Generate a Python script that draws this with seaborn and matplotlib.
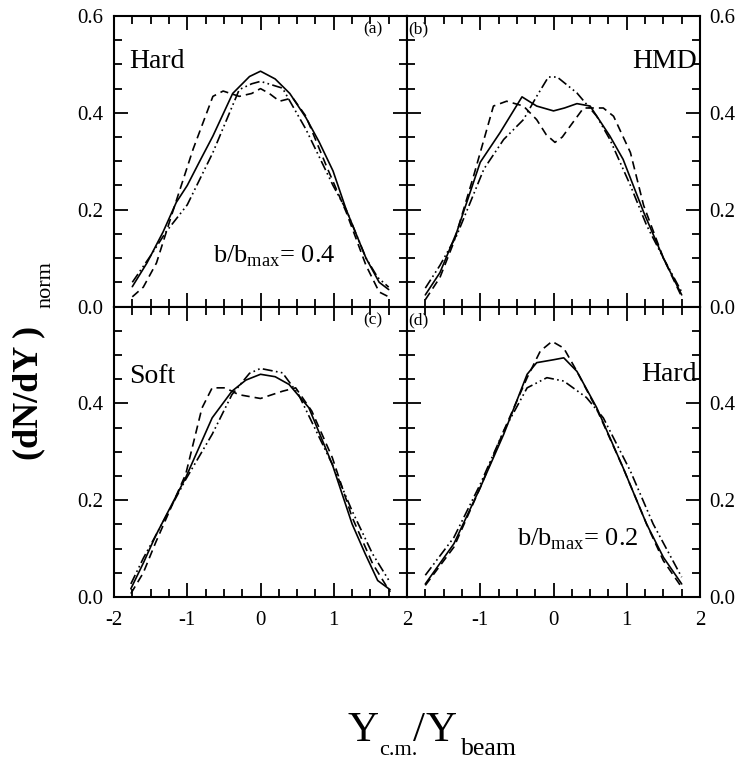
import matplotlib
matplotlib.use("Agg")
import matplotlib.pyplot as plt
import seaborn as sns
import numpy as np
from matplotlib.ticker import MultipleLocator

# ---- data ----
# panel (a): Hard, b/bmax = 0.4
a_solid_x = [-1.75, -1.55, -1.33, -1.15, -1.0, -0.83, -0.65, -0.38, -0.15, 0.0, 0.2, 0.4, 0.62, 0.8, 0.99, 1.17, 1.44, 1.62, 1.75]
a_solid_y = [0.041, 0.09, 0.154, 0.215, 0.25, 0.30, 0.352, 0.44, 0.475, 0.486, 0.47, 0.44, 0.39, 0.34, 0.28, 0.20, 0.10, 0.05, 0.035]
a_dash_x = [-1.75, -1.6, -1.42, -1.2, -0.92, -0.65, -0.51, -0.29, -0.12, 0.0, 0.12, 0.26, 0.44, 0.62, 0.9, 1.17, 1.44, 1.62, 1.75]
a_dash_y = [0.02, 0.04, 0.09, 0.195, 0.325, 0.434, 0.445, 0.434, 0.44, 0.45, 0.44, 0.424, 0.431, 0.393, 0.29, 0.195, 0.085, 0.03, 0.02]
a_dd_x = [-1.75, -1.5, -1.29, -1.0, -0.65, -0.29, -0.12, 0.0, 0.3, 0.62, 0.99, 1.17, 1.44, 1.6, 1.75]
a_dd_y = [0.05, 0.105, 0.154, 0.21, 0.318, 0.448, 0.46, 0.465, 0.451, 0.366, 0.25, 0.20, 0.10, 0.06, 0.04]

# panel (b): HMD, b/bmax = 0.4
b_solid_x = [-1.75, -1.55, -1.32, -1.0, -0.73, -0.43, -0.23, 0.0, 0.15, 0.32, 0.5, 0.77, 0.95, 1.23, 1.5, 1.75]
b_solid_y = [0.024, 0.07, 0.154, 0.298, 0.359, 0.433, 0.414, 0.404, 0.41, 0.419, 0.414, 0.352, 0.304, 0.195, 0.10, 0.024]
b_dash_x = [-1.75, -1.55, -1.36, -1.09, -0.82, -0.64, -0.41, -0.23, -0.1, 0.02, 0.12, 0.23, 0.41, 0.68, 0.82, 1.05, 1.23, 1.5, 1.75]
b_dash_y = [0.014, 0.06, 0.133, 0.27, 0.414, 0.424, 0.414, 0.386, 0.355, 0.339, 0.35, 0.373, 0.41, 0.41, 0.393, 0.318, 0.209, 0.10, 0.02]
b_dd_x = [-1.75, -1.55, -1.32, -0.95, -0.68, -0.41, -0.23, -0.07, 0.05, 0.32, 0.59, 0.77, 1.05, 1.27, 1.5, 1.75]
b_dd_y = [0.038, 0.085, 0.147, 0.284, 0.345, 0.386, 0.434, 0.474, 0.474, 0.441, 0.393, 0.345, 0.25, 0.168, 0.10, 0.03]

# panel (c): Soft, b/bmax = 0.4
c_solid_x = [-1.77, -1.6, -1.43, -1.02, -0.66, -0.39, -0.2, 0.0, 0.2, 0.39, 0.66, 0.98, 1.25, 1.43, 1.6, 1.77]
c_solid_y = [0.017, 0.07, 0.127, 0.247, 0.37, 0.425, 0.448, 0.46, 0.455, 0.439, 0.391, 0.274, 0.151, 0.089, 0.034, 0.015]
c_dash_x = [-1.77, -1.6, -1.43, -1.02, -0.8, -0.66, -0.48, -0.3, 0.0, 0.3, 0.48, 0.7, 0.98, 1.25, 1.53, 1.77]
c_dash_y = [0.007, 0.05, 0.113, 0.254, 0.39, 0.432, 0.432, 0.418, 0.41, 0.425, 0.432, 0.384, 0.288, 0.165, 0.069, 0.01]
c_dd_x = [-1.77, -1.6, -1.43, -1.02, -0.66, -0.39, -0.15, 0.0, 0.3, 0.52, 0.98, 1.25, 1.53, 1.77]
c_dd_y = [0.027, 0.08, 0.127, 0.243, 0.336, 0.418, 0.462, 0.472, 0.463, 0.418, 0.274, 0.178, 0.089, 0.03]

# panel (d): Hard, b/bmax = 0.2
d_solid_x = [-1.75, -1.36, -1.0, -0.68, -0.36, -0.23, 0.0, 0.14, 0.32, 0.59, 0.95, 1.27, 1.5, 1.75]
d_solid_y = [0.027, 0.11, 0.226, 0.336, 0.46, 0.484, 0.49, 0.494, 0.466, 0.391, 0.267, 0.151, 0.082, 0.027]
d_dash_x = [-1.75, -1.36, -1.0, -0.68, -0.36, -0.18, -0.02, 0.14, 0.32, 0.59, 0.95, 1.27, 1.5, 1.75]
d_dash_y = [0.024, 0.103, 0.226, 0.343, 0.453, 0.508, 0.528, 0.514, 0.466, 0.388, 0.267, 0.151, 0.075, 0.02]
d_dd_x = [-1.75, -1.36, -1.0, -0.68, -0.36, -0.09, 0.14, 0.45, 0.68, 1.05, 1.36, 1.75]
d_dd_y = [0.045, 0.123, 0.233, 0.343, 0.432, 0.453, 0.446, 0.412, 0.37, 0.26, 0.151, 0.041]

panel_tags = ["(a)", "(b)", "(c)", "(d)"]
panel_names = ["Hard", "HMD", "Soft", "Hard"]
impact_values = ["0.4", None, None, "0.2"]

curves = [
    [(a_solid_x, a_solid_y), (a_dash_x, a_dash_y), (a_dd_x, a_dd_y)],
    [(b_solid_x, b_solid_y), (b_dash_x, b_dash_y), (b_dd_x, b_dd_y)],
    [(c_solid_x, c_solid_y), (c_dash_x, c_dash_y), (c_dd_x, c_dd_y)],
    [(d_solid_x, d_solid_y), (d_dash_x, d_dash_y), (d_dd_x, d_dd_y)],
]

sns.set_style("ticks")
plt.rcParams['font.family'] = ['Liberation Serif', 'DejaVu Serif']
plt.rcParams['mathtext.fontset'] = 'custom'
plt.rcParams['mathtext.rm'] = 'Liberation Serif'
for key in ['text.color', 'axes.labelcolor', 'xtick.color', 'ytick.color', 'axes.edgecolor']:
    plt.rcParams[key] = 'black'

line_styles = ['-', (0, (5, 3)), (0, (6, 2, 1, 2, 1, 2))]

W, H = 741, 763
fig, axes = plt.subplots(2, 2, figsize=(W / 100, H / 100), dpi=100)
fig.subplots_adjust(left=114 / W, right=700 / W, top=1 - 16 / H, bottom=1 - 597 / H,
                    wspace=0, hspace=0)


def fig_text(px, py, s, **kw):
    # place text by pixel position of the reference
    return fig.text(px / W, 1 - py / H, s, **kw)


for i, ax in enumerate(axes.flat):
    for (xs, ys), ls in zip(curves[i], line_styles):
        sns.lineplot(x=xs, y=ys, ax=ax, color='k', linewidth=1.2, linestyle=ls,
                     sort=False, estimator=None)
    ax.set_xlim(-2, 2)
    ax.set_ylim(0, 0.6)
    ax.xaxis.set_major_locator(MultipleLocator(1))
    ax.xaxis.set_minor_locator(MultipleLocator(0.25))
    ax.yaxis.set_minor_locator(MultipleLocator(0.05))
    for sp in ax.spines.values():
        sp.set_linewidth(1.5)
        sp.set_visible(True)
    ax.tick_params(which='both', direction='in', top=True, bottom=True, left=True, right=True,
                   labelsize=15, width=1.3)
    ax.tick_params(which='major', length=10)
    ax.tick_params(which='minor', length=6)
    row, col = divmod(i, 2)
    ax.tick_params(labelbottom=(row == 1), labeltop=False,
                   labelleft=(col == 0), labelright=(col == 1))
    ax.tick_params(axis='y', pad=8 if col == 0 else 7)
    ax.tick_params(axis='x', pad=10)
    if row == 1:
        ax.set_yticks([0.0, 0.2, 0.4, 0.6], labels=["0.0", "0.2", "0.4", ""])
    else:
        ax.set_yticks([0.0, 0.2, 0.4, 0.6], labels=["0.0", "0.2", "0.4", "0.6"])
    if row == 1 and col == 0:
        ax.set_xticks([-2, -1, 0, 1, 2], labels=["-2", "-1", "0", "1", "2"])
    if row == 1 and col == 1:
        ax.set_xticks([-2, -1, 0, 1, 2], labels=["", "-1", "0", "1", "2"])
    ax.set_xlabel("")
    ax.set_ylabel("")

    if col == 0:
        ax.text(1.53, 0.572, panel_tags[i], fontsize=12.5, ha='center', va='center')
        ax.text(-1.79, 0.506 if row == 0 else 0.455, panel_names[i],
                fontsize=20, ha='left', va='center')
    else:
        ax.text(-1.98, 0.572, panel_tags[i], fontsize=12.5, ha='left', va='center')
        ax.text(1.96, 0.506 if row == 0 else 0.459, panel_names[i],
                fontsize=20, ha='right', va='center')
    if impact_values[i] is not None:
        bx, by = (-0.65, 0.09) if i == 0 else (-0.5, 0.107)
        ax.text(bx, by, r"b/b$_{\mathrm{max}}$= " + impact_values[i], fontsize=19,
                ha='left', va='baseline')

# x axis title, built piece by piece
fig_text(348, 741, "Y", fontsize=31, ha='left', va='baseline')
fig_text(379, 755, "c.m.", fontsize=16, ha='left', va='baseline')
fig_text(413, 741, "/", fontsize=31, ha='left', va='baseline')
fig_text(426, 741, "Y", fontsize=31, ha='left', va='baseline')
fig_text(461, 755, "beam", fontsize=18.5, ha='left', va='baseline')

# y axis title
fig_text(37, 460, "(dN/dY )", fontsize=26, fontweight='bold', rotation=90,
         rotation_mode='anchor', ha='left', va='baseline')
fig_text(50, 308, "norm", fontsize=16, rotation=90,
         rotation_mode='anchor', ha='left', va='baseline')

fig.savefig("out.png", dpi=100)
